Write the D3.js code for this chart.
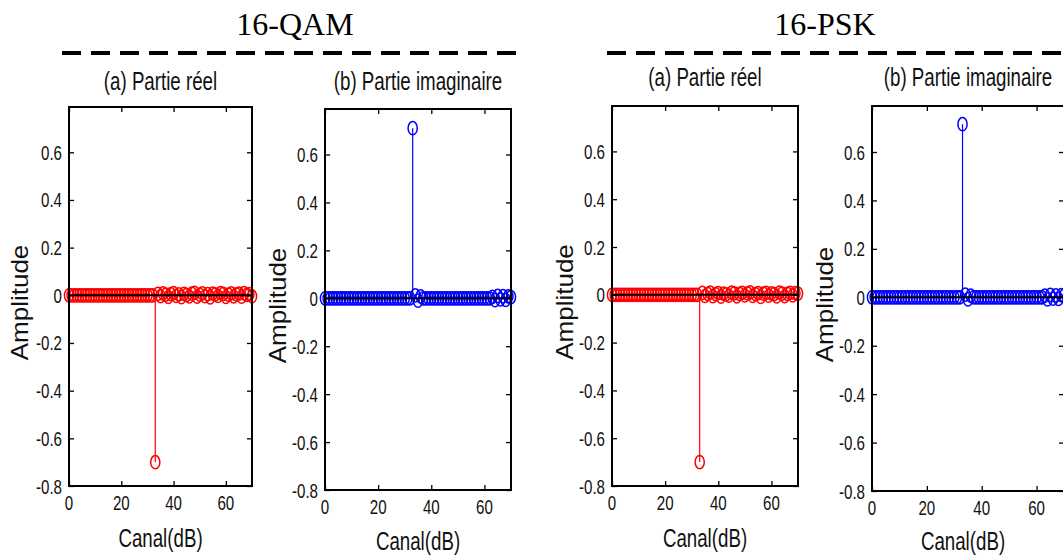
<!DOCTYPE html>
<html>
<head>
<meta charset="utf-8">
<script src="https://cdn.jsdelivr.net/npm/d3@7"></script>
<style>
  body { margin: 0; background: #fff; }
  svg { display: block; }
</style>
</head>
<body>
<svg id="fig" width="1063" height="558"></svg>
<script>
// Channel indices
const canal = [0,1,2,3,4,5,6,7,8,9,10,11,12,13,14,15,16,17,18,19,20,
  21,22,23,24,25,26,27,28,29,30,31,32,33,34,35,36,37,38,39,40,
  41,42,43,44,45,46,47,48,49,50,51,52,53,54,55,56,57,58,59,60,
  61,62,63,64,65,66,67,68,69,70];

// 16-QAM, real part
const qamReel = [0,0,0,0,0,0,0,0,0,0,0,0,0,0,0,0,0,0,0,0,0,0,0,0,0,0,0,0,0,0,0,0,0,
  -0.70,
  0.006,-0.004,0.008,0.003,-0.007,0.005,0.009,-0.003,0.004,-0.008,0.006,0.002,-0.005,
  0.007,0.010,-0.006,0.003,0.008,-0.004,0.005,-0.009,0.007,0.004,-0.003,0.009,0.006,
  -0.007,0.003,0.008,-0.005,0.004,0.007,-0.006,0.009,0.002,0.005,-0.004];

// 16-QAM, imaginary part
const qamImag = [0,0,0,0,0,0,0,0,0,0,0,0,0,0,0,0,0,0,0,0,0,0,0,0,0,0,0,0,0,0,0,0,0,
  0.71,
  0.012,-0.010,0.008,
  0,0,0,0,0,0,0,0,0,0,0,0,0,0,0,0,0,0,0,0,0,0,0,0,0,0,
  0.006,-0.008,0.010,-0.005,0.009,-0.007,0.008,0.005];

// 16-PSK, real part
const pskReel = [0,0,0,0,0,0,0,0,0,0,0,0,0,0,0,0,0,0,0,0,0,0,0,0,0,0,0,0,0,0,0,0,0,
  -0.70,
  0.008,-0.005,0.004,0.009,-0.006,0.003,0.007,-0.008,0.005,0.002,-0.004,0.009,0.006,
  -0.007,0.004,0.008,-0.003,0.006,0.010,-0.005,0.003,0.007,-0.009,0.005,0.008,-0.004,
  0.006,0.003,-0.007,0.009,0.005,-0.006,0.004,0.008,-0.003,0.007,0.005];

// 16-PSK, imaginary part
const pskImag = [0,0,0,0,0,0,0,0,0,0,0,0,0,0,0,0,0,0,0,0,0,0,0,0,0,0,0,0,0,0,0,0,0,
  0.715,
  0.011,-0.009,0.007,
  0,0,0,0,0,0,0,0,0,0,0,0,0,0,0,0,0,0,0,0,0,0,0,0,0,0,
  0.007,-0.009,0.010,-0.006,0.008,-0.007,0.009,0.006];

const xTicks = [0, 20, 40, 60];
const yTicks = [-0.8, -0.6, -0.4, -0.2, 0, 0.2, 0.4, 0.6];
const xDomain = [0, 70];
const yDomain = [-0.8, 0.79];

const groupTitles = ["16-QAM", "16-PSK"];
const panelTitles = ["(a) Partie réel", "(b) Partie imaginaire"];
const xLabel = "Canal(dB)";
const yLabel = "Amplitude";

// Layout of the four axes (pixel boxes) and the two group headers
const panels = [
  { values: qamReel, color: "#ff0000", title: panelTitles[0],
    box: { l: 69, r: 252, t: 107, b: 486 }, titleY: 90, xlabY: 547, ylabX: 28, xlabDx: 0 },
  { values: qamImag, color: "#0000ff", title: panelTitles[1],
    box: { l: 325, r: 511, t: 109, b: 490 }, titleY: 90, xlabY: 550, ylabX: 286, xlabDx: 0 },
  { values: pskReel, color: "#ff0000", title: panelTitles[0],
    box: { l: 612, r: 798, t: 106, b: 486 }, titleY: 86, xlabY: 547, ylabX: 573, xlabDx: 0 },
  { values: pskImag, color: "#0000ff", title: panelTitles[1],
    box: { l: 872, r: 1064, t: 106, b: 491 }, titleY: 86, xlabY: 550, ylabX: 833, xlabDx: -5 }
];
const groups = [
  { title: groupTitles[0], cx: 295, titleY: 35, x1: 62, x2: 520, lineY: 53 },
  { title: groupTitles[1], cx: 825, titleY: 35, x1: 607, x2: 1063, lineY: 53 }
];

const svg = d3.select("#fig");
const SANS = "'Liberation Sans', Arial, Helvetica, sans-serif";
const K = 0.72; // horizontal condensing of the axis typography

function text(g, x, y, str, size, anchor, k, rotate) {
  return g.append("text")
    .attr("transform", `translate(${x},${y}) scale(${k},1)` + (rotate ? ` rotate(${rotate})` : ""))
    .attr("text-anchor", anchor)
    .attr("font-family", SANS)
    .attr("font-size", size)
    .attr("fill", "#111")
    .text(str);
}

// Group headers with dashed separators
groups.forEach(gr => {
  svg.append("text")
    .attr("x", gr.cx).attr("y", gr.titleY)
    .attr("text-anchor", "middle")
    .attr("font-family", "'Liberation Serif', 'Times New Roman', serif")
    .attr("font-size", 32)
    .attr("fill", "#000")
    .text(gr.title);
  svg.append("line")
    .attr("x1", gr.x1).attr("x2", gr.x2)
    .attr("y1", gr.lineY).attr("y2", gr.lineY)
    .attr("stroke", "#000").attr("stroke-width", 4)
    .attr("stroke-dasharray", "19,10");
});

panels.forEach(p => {
  const b = p.box;
  const x = d3.scaleLinear().domain(xDomain).range([b.l, b.r]);
  const y = d3.scaleLinear().domain(yDomain).range([b.b, b.t]);
  const g = svg.append("g");

  const pts = canal.map((c, i) => ({ c, v: p.values[i] }));

  // stems
  g.append("g").selectAll("line").data(pts.filter(d => d.v !== 0)).join("line")
    .attr("x1", d => x(d.c)).attr("x2", d => x(d.c))
    .attr("y1", y(0)).attr("y2", d => y(d.v))
    .attr("stroke", p.color).attr("stroke-width", 1.2);

  // circle markers
  g.append("g").selectAll("ellipse").data(pts).join("ellipse")
    .attr("cx", d => x(d.c)).attr("cy", d => y(d.v))
    .attr("rx", 4.6).attr("ry", 6.6)
    .attr("fill", "none").attr("stroke", p.color).attr("stroke-width", 1.5);

  // baseline
  g.append("line")
    .attr("x1", x(xDomain[0])).attr("x2", x(xDomain[1]))
    .attr("y1", y(0)).attr("y2", y(0))
    .attr("stroke", "#000").attr("stroke-width", 2);

  // inward ticks on all four sides
  const tick = 5;
  g.append("g").attr("transform", `translate(0,${b.b})`)
    .call(d3.axisBottom(x).tickValues(xTicks).tickSizeInner(-tick).tickSizeOuter(0).tickFormat(""));
  g.append("g").attr("transform", `translate(0,${b.t})`)
    .call(d3.axisTop(x).tickValues(xTicks).tickSizeInner(-tick).tickSizeOuter(0).tickFormat(""));
  g.append("g").attr("transform", `translate(${b.l},0)`)
    .call(d3.axisLeft(y).tickValues(yTicks).tickSizeInner(-tick).tickSizeOuter(0).tickFormat(""));
  g.append("g").attr("transform", `translate(${b.r},0)`)
    .call(d3.axisRight(y).tickValues(yTicks).tickSizeInner(-tick).tickSizeOuter(0).tickFormat(""));
  g.selectAll(".domain").remove();
  g.selectAll(".tick line").attr("stroke", "#000").attr("stroke-width", 1.3);

  // frame
  g.append("rect")
    .attr("x", b.l).attr("y", b.t)
    .attr("width", b.r - b.l).attr("height", b.b - b.t)
    .attr("fill", "none").attr("stroke", "#000").attr("stroke-width", 2);

  // tick labels
  const fmt = v => v === 0 ? "0" : d3.format(".1f")(v).replace("−", "-");
  xTicks.forEach(v => text(g, x(v), b.b + 24, String(v), 21, "middle", K));
  yTicks.forEach(v => text(g, b.l - 7, y(v) + 7.5, fmt(v), 21, "end", K));

  // titles and axis labels
  text(g, (b.l + b.r) / 2, p.titleY, p.title, 26, "middle", K);
  text(g, (b.l + b.r) / 2 + p.xlabDx, p.xlabY, xLabel, 26, "middle", K);
  text(g, p.ylabX, (b.t + b.b) / 2 + 6, yLabel, 26, "middle", 0.9, -90);
});
</script>
</body>
</html>
